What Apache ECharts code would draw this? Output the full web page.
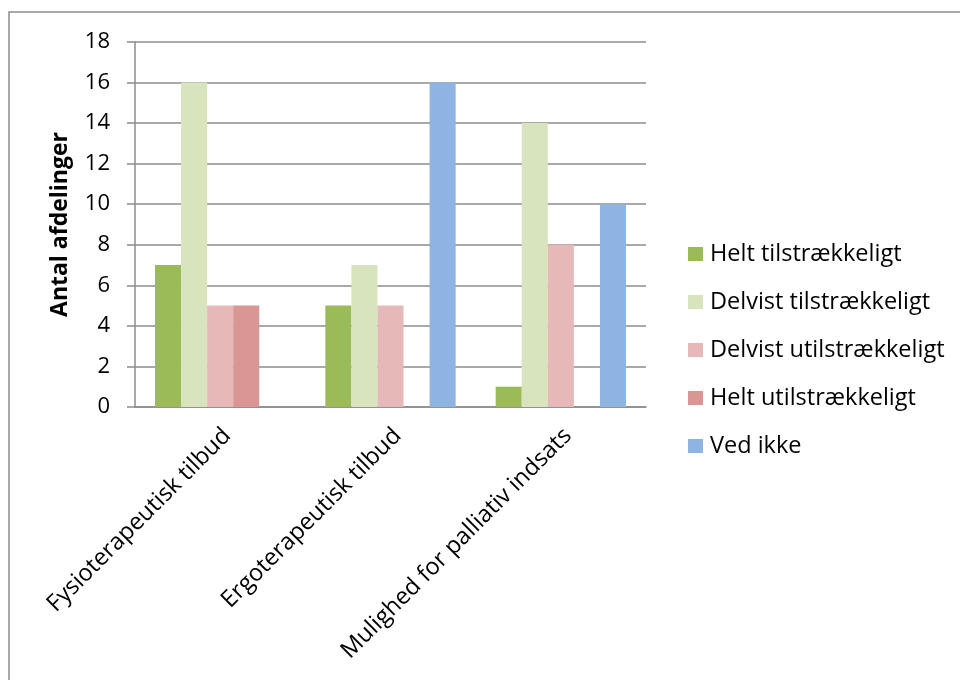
<!DOCTYPE html>
<html>
<head>
<meta charset="utf-8">
<script src="https://cdn.jsdelivr.net/npm/echarts@6/dist/echarts.min.js"></script>
<style>
  html, body { margin: 0; padding: 0; background: #ffffff; }
  #chart { width: 960px; height: 680px; }
</style>
</head>
<body>
<div id="chart"></div>
<script>
// Categories on the x axis
const categories = [
  'Fysioterapeutisk tilbud',
  'Ergoterapeutisk tilbud',
  'Mulighed for palliativ indsats'
];

// Series names and values (number of departments)
const seriesNames = [
  'Helt tilstrækkeligt',
  'Delvist tilstrækkeligt',
  'Delvist utilstrækkeligt',
  'Helt utilstrækkeligt',
  'Ved ikke'
];
const heltTilstraekkeligt = [7, 5, 1];
const delvistTilstraekkeligt = [16, 7, 14];
const delvistUtilstraekkeligt = [5, 5, 8];
const heltUtilstraekkeligt = [5, 0, 0];
const vedIkke = [0, 16, 10];

const seriesColors = ['#9BBB59', '#D7E4BD', '#E6B9B8', '#D99694', '#8EB4E3'];

const yTicks = { min: 0, max: 18, interval: 2 };
const yAxisTitle = 'Antal afdelinger';

const font = '"Open Sans", Lato, sans-serif';
const seriesValues = [
  heltTilstraekkeligt,
  delvistTilstraekkeligt,
  delvistUtilstraekkeligt,
  heltUtilstraekkeligt,
  vedIkke
];

const chart = echarts.init(document.getElementById('chart'), null, { renderer: 'canvas' });

chart.setOption({
  animation: false,
  backgroundColor: '#ffffff',
  textStyle: { fontFamily: font, color: '#000000' },
  graphic: [{
    type: 'rect',
    shape: { x: 9, y: 12, width: 1000, height: 720 },
    style: { fill: 'none', stroke: '#8c8c8c', lineWidth: 1.5 },
    silent: true,
    z: -1
  }],
  grid: { left: 135, right: 314, top: 42, bottom: 273, containLabel: false },
  legend: {
    orient: 'vertical',
    left: 688,
    top: 242,
    padding: 0,
    itemWidth: 15,
    itemHeight: 14,
    itemGap: 24,
    icon: 'rect',
    textStyle: { fontFamily: font, fontSize: 23.5, color: '#000000', padding: [0, 0, 0, 2] },
    data: seriesNames
  },
  xAxis: {
    type: 'category',
    data: categories,
    axisLine: { show: true, lineStyle: { color: '#8c8c8c', width: 1.5 } },
    axisTick: { show: false },
    axisLabel: {
      rotate: 45,
      interval: 0,
      margin: 18,
      verticalAlign: 'top',
      lineHeight: 20,
      fontFamily: font,
      fontSize: 23.5,
      color: '#000000'
    }
  },
  yAxis: {
    type: 'value',
    min: yTicks.min,
    max: yTicks.max,
    interval: yTicks.interval,
    name: yAxisTitle,
    nameLocation: 'middle',
    nameGap: 63,
    nameRotate: 90,
    nameTextStyle: { fontFamily: font, fontSize: 23, fontWeight: 'bold', color: '#000000' },
    axisLine: { show: true, lineStyle: { color: '#8c8c8c', width: 1.5 } },
    axisTick: { show: true, length: 8, lineStyle: { color: '#8c8c8c', width: 1.5 } },
    axisLabel: { fontFamily: font, fontSize: 22, color: '#000000', margin: 25 },
    splitLine: { show: true, lineStyle: { color: '#8c8c8c', width: 1.5 } }
  },
  series: seriesNames.map((name, i) => ({
    name: name,
    type: 'bar',
    data: seriesValues[i],
    barGap: '0%',
    barCategoryGap: '23.5%',
    itemStyle: { color: seriesColors[i] },
    z: 2
  }))
});
</script>
</body>
</html>
